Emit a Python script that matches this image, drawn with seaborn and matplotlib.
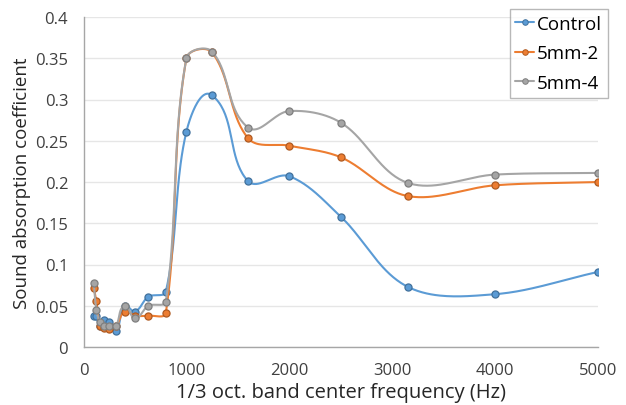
import numpy as np
import pandas as pd
import matplotlib
matplotlib.use("Agg")
import matplotlib.pyplot as plt
from matplotlib.lines import Line2D
import seaborn as sns

# 1/3-octave band centre frequencies (Hz)
freqs = [100, 125, 160, 200, 250, 315, 400, 500, 630, 800,
         1000, 1250, 1600, 2000, 2500, 3150, 4000, 5000]

control = [0.038, 0.037, 0.026, 0.033, 0.030, 0.020, 0.050, 0.043, 0.061, 0.067,
           0.261, 0.305, 0.201, 0.207, 0.158, 0.073, 0.064, 0.091]
mm5_2 = [0.072, 0.056, 0.026, 0.023, 0.022, 0.025, 0.043, 0.038, 0.038, 0.041,
         0.350, 0.357, 0.253, 0.244, 0.230, 0.183, 0.196, 0.200]
mm5_4 = [0.077, 0.045, 0.030, 0.026, 0.026, 0.026, 0.050, 0.035, 0.050, 0.055,
         0.350, 0.358, 0.266, 0.286, 0.272, 0.199, 0.209, 0.211]

series_names = ["Control", "5mm-2", "5mm-4"]
series_values = [control, mm5_2, mm5_4]
line_colors = ["#5B9BD5", "#ED7D31", "#A5A5A5"]
edge_colors = ["#41719C", "#AE5A21", "#7F7F7F"]

x_ticks = [0, 1000, 2000, 3000, 4000, 5000]
y_ticks = [0, 0.05, 0.1, 0.15, 0.2, 0.25, 0.3, 0.35, 0.4]
y_tick_labels = ["0", "0.05", "0.1", "0.15", "0.2", "0.25", "0.3", "0.35", "0.4"]

X_MAX, Y_MAX = 5000, 0.4
AX_LEFT, AX_RIGHT, AX_TOP, AX_BOTTOM = 83.5, 598, 18, 348  # pixels
FIG_W, FIG_H = 626, 406


def smooth_curve(x, y, sx, sy, steps=40):
    """Cubic Bezier through every point, built in screen units so the
    tangent at each point follows its neighbours and each handle is a
    third of the adjoining segment's length."""
    p = np.column_stack([np.asarray(x) * sx, np.asarray(y) * sy]).astype(float)
    n = len(p)
    dirs = np.zeros_like(p)
    for i in range(n):
        a = p[max(i - 1, 0)]
        b = p[min(i + 1, n - 1)]
        d = b - a
        dirs[i] = d / np.linalg.norm(d)
    t = np.linspace(0, 1, steps)[:, None]
    out = []
    for i in range(n - 1):
        p1, p2 = p[i], p[i + 1]
        seg = np.linalg.norm(p2 - p1) / 3.0
        c1 = p1 + dirs[i] * seg
        c2 = p2 - dirs[i + 1] * seg
        b = ((1 - t) ** 3) * p1 + 3 * ((1 - t) ** 2) * t * c1 \
            + 3 * (1 - t) * t ** 2 * c2 + t ** 3 * p2
        out.append(b if i == 0 else b[1:])
    c = np.vstack(out)
    return c[:, 0] / sx, c[:, 1] / sy


sns.set_theme(style="white")
plt.rcParams["font.family"] = ["Open Sans", "DejaVu Sans"]

fig = plt.figure(figsize=(FIG_W / 100, FIG_H / 100), dpi=100)
ax = fig.add_axes([AX_LEFT / FIG_W, (FIG_H - AX_BOTTOM) / FIG_H,
                   (AX_RIGHT - AX_LEFT) / FIG_W, (AX_BOTTOM - AX_TOP) / FIG_H])

px_per_hz = (AX_RIGHT - AX_LEFT) / X_MAX
px_per_unit = (AX_BOTTOM - AX_TOP) / Y_MAX

for k, (name, vals) in enumerate(zip(series_names, series_values)):
    cx, cy = smooth_curve(freqs, vals, px_per_hz, px_per_unit)
    curve = pd.DataFrame({"f": cx, "a": cy})
    sns.lineplot(data=curve, x="f", y="a", sort=False, estimator=None,
                 color=line_colors[k], linewidth=1.5, ax=ax, zorder=3 + 2 * k)
    pts = pd.DataFrame({"f": freqs, "a": vals})
    sns.scatterplot(data=pts, x="f", y="a", color=line_colors[k],
                    edgecolor=edge_colors[k], linewidth=0.9, s=26,
                    ax=ax, zorder=4 + 2 * k)

ax.set_xlim(0, X_MAX)
ax.set_ylim(0, Y_MAX)
ax.set_xticks(x_ticks)
ax.set_xticklabels([str(v) for v in x_ticks])
ax.set_yticks(y_ticks)
ax.set_yticklabels(y_tick_labels)
ax.tick_params(axis="both", length=0, labelsize=12, colors="#404040")
ax.tick_params(axis="x", pad=11)
ax.tick_params(axis="y", pad=11)
ax.yaxis.grid(True, color="#E6E6E6", linewidth=1.0)
ax.xaxis.grid(False)
ax.set_axisbelow(True)
for side in ["top", "right"]:
    ax.spines[side].set_visible(False)
for side in ["left", "bottom"]:
    ax.spines[side].set_color("#A6A6A6")
    ax.spines[side].set_linewidth(1.0)

ax.set_xlabel("1/3 oct. band center frequency (Hz)", fontsize=14.5,
              color="#262626", labelpad=3)
ax.set_ylabel("Sound absorption coefficient", fontsize=13.5,
              color="#262626", labelpad=3)

handles = [Line2D([0], [0], color=c, lw=1.5, marker="o", markersize=4,
                  markerfacecolor=c, markeredgecolor=e, markeredgewidth=0.7)
           for c, e in zip(line_colors, edge_colors)]
leg = fig.legend(handles, series_names, loc="upper right",
                 bbox_to_anchor=(607.5 / FIG_W, 1 - 10 / FIG_H), frameon=True,
                 fancybox=False, fontsize=13.5, handlelength=1.0,
                 handletextpad=0.15, borderpad=0.3, labelspacing=0.62,
                 borderaxespad=0.0)
leg.get_frame().set_edgecolor("#A6A6A6")
leg.get_frame().set_linewidth(1.0)
for txt in leg.get_texts():
    txt.set_color("#000000")

fig.savefig("out.png", dpi=100, facecolor="white")
